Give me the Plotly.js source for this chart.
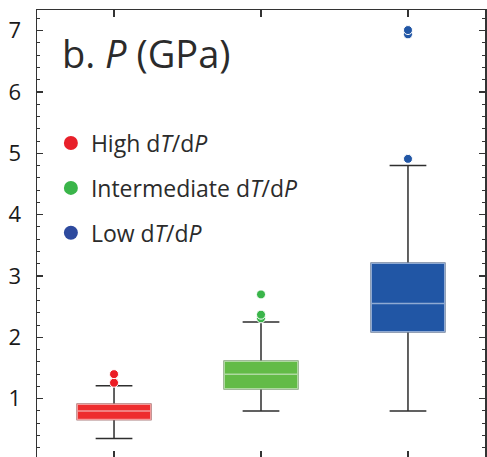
<!DOCTYPE html>
<html>
<head>
<meta charset="utf-8">
<script src="https://cdn.plot.ly/plotly-3.0.1.min.js"></script>
<style>
html, body { margin: 0; padding: 0; overflow: hidden; background: #fff; }
#chart { width: 487px; height: 460px; }
</style>
</head>
<body>
<div id="chart"></div>
<script>
// ---- data ----
var categories = ['High', 'Intermediate', 'Low'];
var legendNames = ['High d<i>T</i>/d<i>P</i>', 'Intermediate d<i>T</i>/d<i>P</i>', 'Low d<i>T</i>/d<i>P</i>'];
var q1Values = [0.66, 1.16, 2.09];
var medianValues = [0.80, 1.40, 2.55];
var q3Values = [0.91, 1.61, 3.21];
var lowerWhisker = [0.35, 0.80, 0.80];
var upperWhisker = [1.21, 2.25, 4.80];
var outliersHigh = [1.26, 1.40];
var outliersIntermediate = [2.31, 2.37, 2.70];
var outliersLow = [4.91, 6.94, 7.01];
var yTickValues = [1, 2, 3, 4, 5, 6, 7];
var titleText = 'b. <i>P</i> (GPa)';

// ---- styling ----
var outlierSets = [outliersHigh, outliersIntermediate, outliersLow];
var fillColors = ['#EE2D2E', '#63BB47', '#2156A5'];
var tintColors = ['#F39A9A', '#AED9A0', '#8FAAD3'];
var dotColors = ['#EB1C24', '#3AB54A', '#2156A5'];
var legendDotColors = ['#E8202A', '#3AB54A', '#2E4A9E'];
var fontFamily = '"Open Sans", "Noto Sans", sans-serif';

var traces = [];
for (var i = 0; i < categories.length; i++) {
  // full box with dark whiskers
  traces.push({
    type: 'box', x: [categories[i]],
    q1: [q1Values[i]], median: [medianValues[i]], q3: [q3Values[i]],
    lowerfence: [lowerWhisker[i]], upperfence: [upperWhisker[i]],
    width: 0.5, whiskerwidth: 0.5, boxpoints: false,
    line: { color: '#2e2e2e', width: 1.5 }, fillcolor: fillColors[i],
    showlegend: false, hoverinfo: 'skip'
  });
  // overlay box: light outline and median, no whiskers
  traces.push({
    type: 'box', x: [categories[i]],
    q1: [q1Values[i]], median: [medianValues[i]], q3: [q3Values[i]],
    lowerfence: [q1Values[i]], upperfence: [q3Values[i]],
    width: 0.5, whiskerwidth: 0, boxpoints: false,
    line: { color: tintColors[i], width: 1.5 }, fillcolor: fillColors[i],
    showlegend: false, hoverinfo: 'skip'
  });
}
for (var j = 0; j < categories.length; j++) {
  traces.push({
    type: 'scatter', mode: 'markers',
    x: outlierSets[j].map(function () { return categories[j]; }),
    y: outlierSets[j],
    marker: { color: dotColors[j], size: 9, line: { color: '#ffffff', width: 1 } },
    showlegend: false, hoverinfo: 'skip', cliponaxis: false
  });
}
for (var k = 0; k < categories.length; k++) {
  traces.push({
    type: 'scatter', mode: 'markers', x: [null], y: [null],
    name: legendNames[k], legendgroup: 'g' + k,
    marker: { color: legendDotColors[k], size: 14 }
  });
}

var layout = {
  width: 487, height: 460,
  margin: { l: 37, r: 2, t: 10, b: 2, pad: 0 },
  paper_bgcolor: '#ffffff', plot_bgcolor: '#ffffff',
  font: { family: fontFamily, color: '#262626' },
  showlegend: true,
  boxmode: 'overlay',
  legend: {
    x: 0.031, xanchor: 'left', y: 0.751, yanchor: 'top',
    bgcolor: 'rgba(0,0,0,0)', borderwidth: 0,
    traceorder: 'grouped', tracegroupgap: 12,
    font: { family: fontFamily, size: 23, color: '#2b2b2b' },
    itemsizing: 'trace'
  },
  xaxis: {
    type: 'category', categoryorder: 'array', categoryarray: categories,
    range: [-0.524, 2.524], showticklabels: false,
    showline: true, linecolor: '#333333', linewidth: 1.5, mirror: 'ticks',
    ticks: 'inside', ticklen: 7, tickwidth: 1.2, tickcolor: '#333333',
    showgrid: false, zeroline: false, fixedrange: true
  },
  yaxis: {
    range: [0.033, 7.337], tickmode: 'array', tickvals: yTickValues,
    ticktext: yTickValues.map(String),
    showline: true, linecolor: '#333333', linewidth: 1.5, mirror: 'ticks',
    ticks: 'inside', ticklen: 6, tickwidth: 1.2, tickcolor: '#333333',
    minor: { dtick: 0.2, ticks: 'inside', ticklen: 3, tickwidth: 1, tickcolor: '#333333', showgrid: false },
    tickfont: { family: fontFamily, size: 22, color: '#1a1a1a' },
    ticklabelstandoff: 10,
    showgrid: false, zeroline: false, fixedrange: true
  },
  annotations: [{
    text: titleText, xref: 'paper', yref: 'paper',
    x: 0.052, xanchor: 'left', y: 0.903, yanchor: 'middle',
    showarrow: false, font: { family: fontFamily, size: 38, color: '#2b2b2b' }
  }]
};

Plotly.newPlot('chart', traces, layout, { staticPlot: true, displayModeBar: false });
</script>
</body>
</html>
